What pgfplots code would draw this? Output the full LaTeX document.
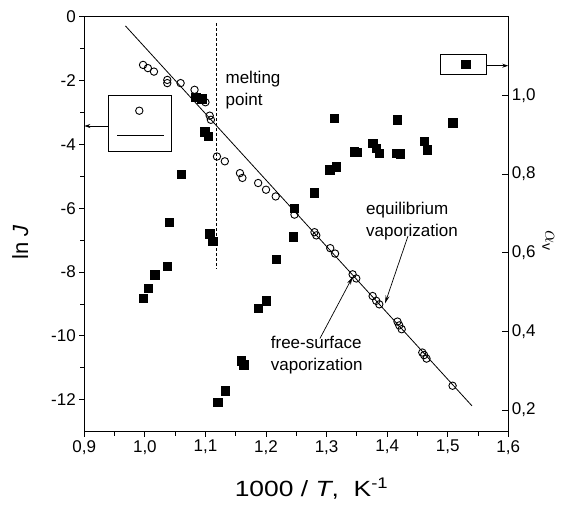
\documentclass[border=0pt]{standalone}
\usepackage{fontspec}
\setmainfont{Liberation Sans}
\usepackage{graphicx}
\usepackage{pgfplots}
\pgfplotsset{compat=1.18}
\usetikzlibrary{arrows.meta}

\pgfplotstableread{
x y
0.997 -1.51
1.005 -1.61
1.015 -1.72
1.037 -1.98
1.037 -2.08
1.059 -2.08
1.082 -2.29
1.100 -2.68
1.107 -3.10
1.109 -3.23
1.119 -4.38
1.132 -4.53
1.157 -4.90
1.161 -5.05
1.187 -5.21
1.200 -5.42
1.216 -5.63
1.247 -6.20
1.280 -6.75
1.283 -6.85
1.306 -7.25
1.314 -7.42
1.343 -8.07
1.349 -8.20
1.376 -8.75
1.382 -8.90
1.387 -9.01
1.417 -9.55
1.420 -9.67
1.424 -9.79
1.458 -10.52
1.461 -10.60
1.465 -10.71
1.508 -11.56
}\lnJdata

\pgfplotstableread{
x a
0.997 0.484
1.005 0.510
1.016 0.544
1.037 0.565
1.040 0.678
1.060 0.800
1.084 0.995
1.094 0.992
1.099 0.908
1.105 0.896
1.107 0.648
1.112 0.630
1.120 0.220
1.133 0.249
1.159 0.326
1.163 0.315
1.187 0.459
1.200 0.478
1.217 0.584
1.245 0.641
1.247 0.713
1.280 0.753
1.305 0.811
1.316 0.819
1.313 0.942
1.346 0.857
1.351 0.855
1.376 0.879
1.382 0.866
1.387 0.853
1.415 0.853
1.422 0.852
1.417 0.938
1.461 0.883
1.466 0.862
1.508 0.931
}\alphadata

\begin{document}
\begin{tikzpicture}
\begin{axis}[
  scale only axis, width=424pt, height=415pt,
  xmin=0.9, xmax=1.6, ymin=-13, ymax=0,
  axis line style={line width=1.1pt},
  xtick={0.9,1.0,1.1,1.2,1.3,1.4,1.5,1.6},
  xticklabels={{0,9},{1,0},{1,1},{1,2},{1,3},{1,4},{1,5},{1,6}},
  minor x tick num=1,
  ytick={-12,-10,-8,-6,-4,-2,0},
  yticklabels={-12,-10,-8,-6,-4,-2,0},
  minor y tick num=1,
  xtick pos=lower, ytick pos=left, tick align=outside,
  major tick length=5pt, minor tick length=4pt,
  tick style={black, line width=1pt},
  ticklabel style={font=\fontsize{17}{20}\selectfont},
  clip=false,
]
% regression line
\addplot[black, line width=0.8pt] coordinates {(0.968,-0.29) (1.540,-12.19)};
% melting point
\addplot[black, line width=1pt, dash pattern=on 3pt off 2pt] coordinates {(1.118,-0.2) (1.118,-7.9)};
% open circles
\addplot[only marks, mark=o, mark size=3.7pt, mark options={fill=white, line width=0.9pt}] table[x=x,y=y] {\lnJdata};

% legend box left
\draw[line width=0.8pt] (axis cs:0.9396,-2.453) rectangle (axis cs:1.0431,-4.229);
\addplot[only marks, mark=o, mark size=3.7pt, mark options={fill=white, line width=0.9pt}] coordinates {(0.9908,-2.945)};
\draw[line width=0.8pt] (axis cs:0.9545,-3.706) -- (axis cs:1.0316,-3.706);
\draw[line width=0.8pt, -{Stealth[length=6pt,width=4pt]}] (axis cs:0.9396,-3.424) -- (axis cs:0.9,-3.424);

% legend box right
\draw[line width=0.8pt] (axis cs:1.4873,-1.169) rectangle (axis cs:1.5632,-1.795);
\addplot[only marks, mark=square*, mark size=4.2pt, black] coordinates {(1.5297,-1.482)};
\draw[line width=0.8pt, -{Stealth[length=6pt,width=4pt]}] (axis cs:1.5632,-1.535) -- (axis cs:1.6,-1.535);

% annotations
\node[anchor=west, align=left, inner sep=0pt, font=\fontsize{17}{21.7}\selectfont] at (axis cs:1.133,-2.3) {melting\\point};
\node[anchor=west, align=left, inner sep=0pt, font=\fontsize{17}{21.7}\selectfont] at (axis cs:1.365,-6.4) {equilibrium\\vaporization};
\node[anchor=west, align=left, inner sep=0pt, font=\fontsize{17}{21.7}\selectfont] at (axis cs:1.2077,-10.6) {free-surface\\vaporization};
\draw[line width=0.7pt, -{Stealth[length=8pt,width=4pt]}] (axis cs:1.4344,-6.87) -- (axis cs:1.3965,-8.98);
\draw[line width=0.7pt, -{Stealth[length=8pt,width=4pt]}] (axis cs:1.289,-10.08) -- (axis cs:1.343,-8.15);

% axis labels
\node[rotate=90, font=\fontsize{22}{26}\selectfont] at ([xshift=-64pt]rel axis cs:0,0.457) {ln \textit{J}};
\node[font=\fontsize{22}{26}\selectfont] at ([yshift=-57pt]rel axis cs:0.536,0) {\scalebox{1.2}[1]{1000 / \textit{T},\ \ K\textsuperscript{-1}}};
\end{axis}

\begin{axis}[
  scale only axis, width=424pt, height=415pt,
  xmin=0.9, xmax=1.6, ymin=0.145, ymax=1.2,
  axis x line=none, axis y line*=right,
  axis line style={line width=1.1pt},
  ytick={0.2,0.4,0.6,0.8,1.0},
  yticklabels={{0,2},{0,4},{0,6},{0,8},{1,0}},
  tick align=inside, major tick length=6pt,
  tick style={black, line width=1pt},
  ticklabel style={font=\fontsize{17}{20}\selectfont},
  clip=false,
]
\addplot[only marks, mark=square*, mark size=4.2pt, black] table[x=x,y=a] {\alphadata};
\node[rotate=-90, font=\fontsize{20}{24}\selectfont] at ([xshift=40pt]rel axis cs:1,0.46) {$\alpha_{\mathrm{v}}$};
\end{axis}
\pgfresetboundingbox
\path (-84.3pt,-72.3pt) rectangle ++(564pt,504pt);
\end{tikzpicture}
\end{document}
